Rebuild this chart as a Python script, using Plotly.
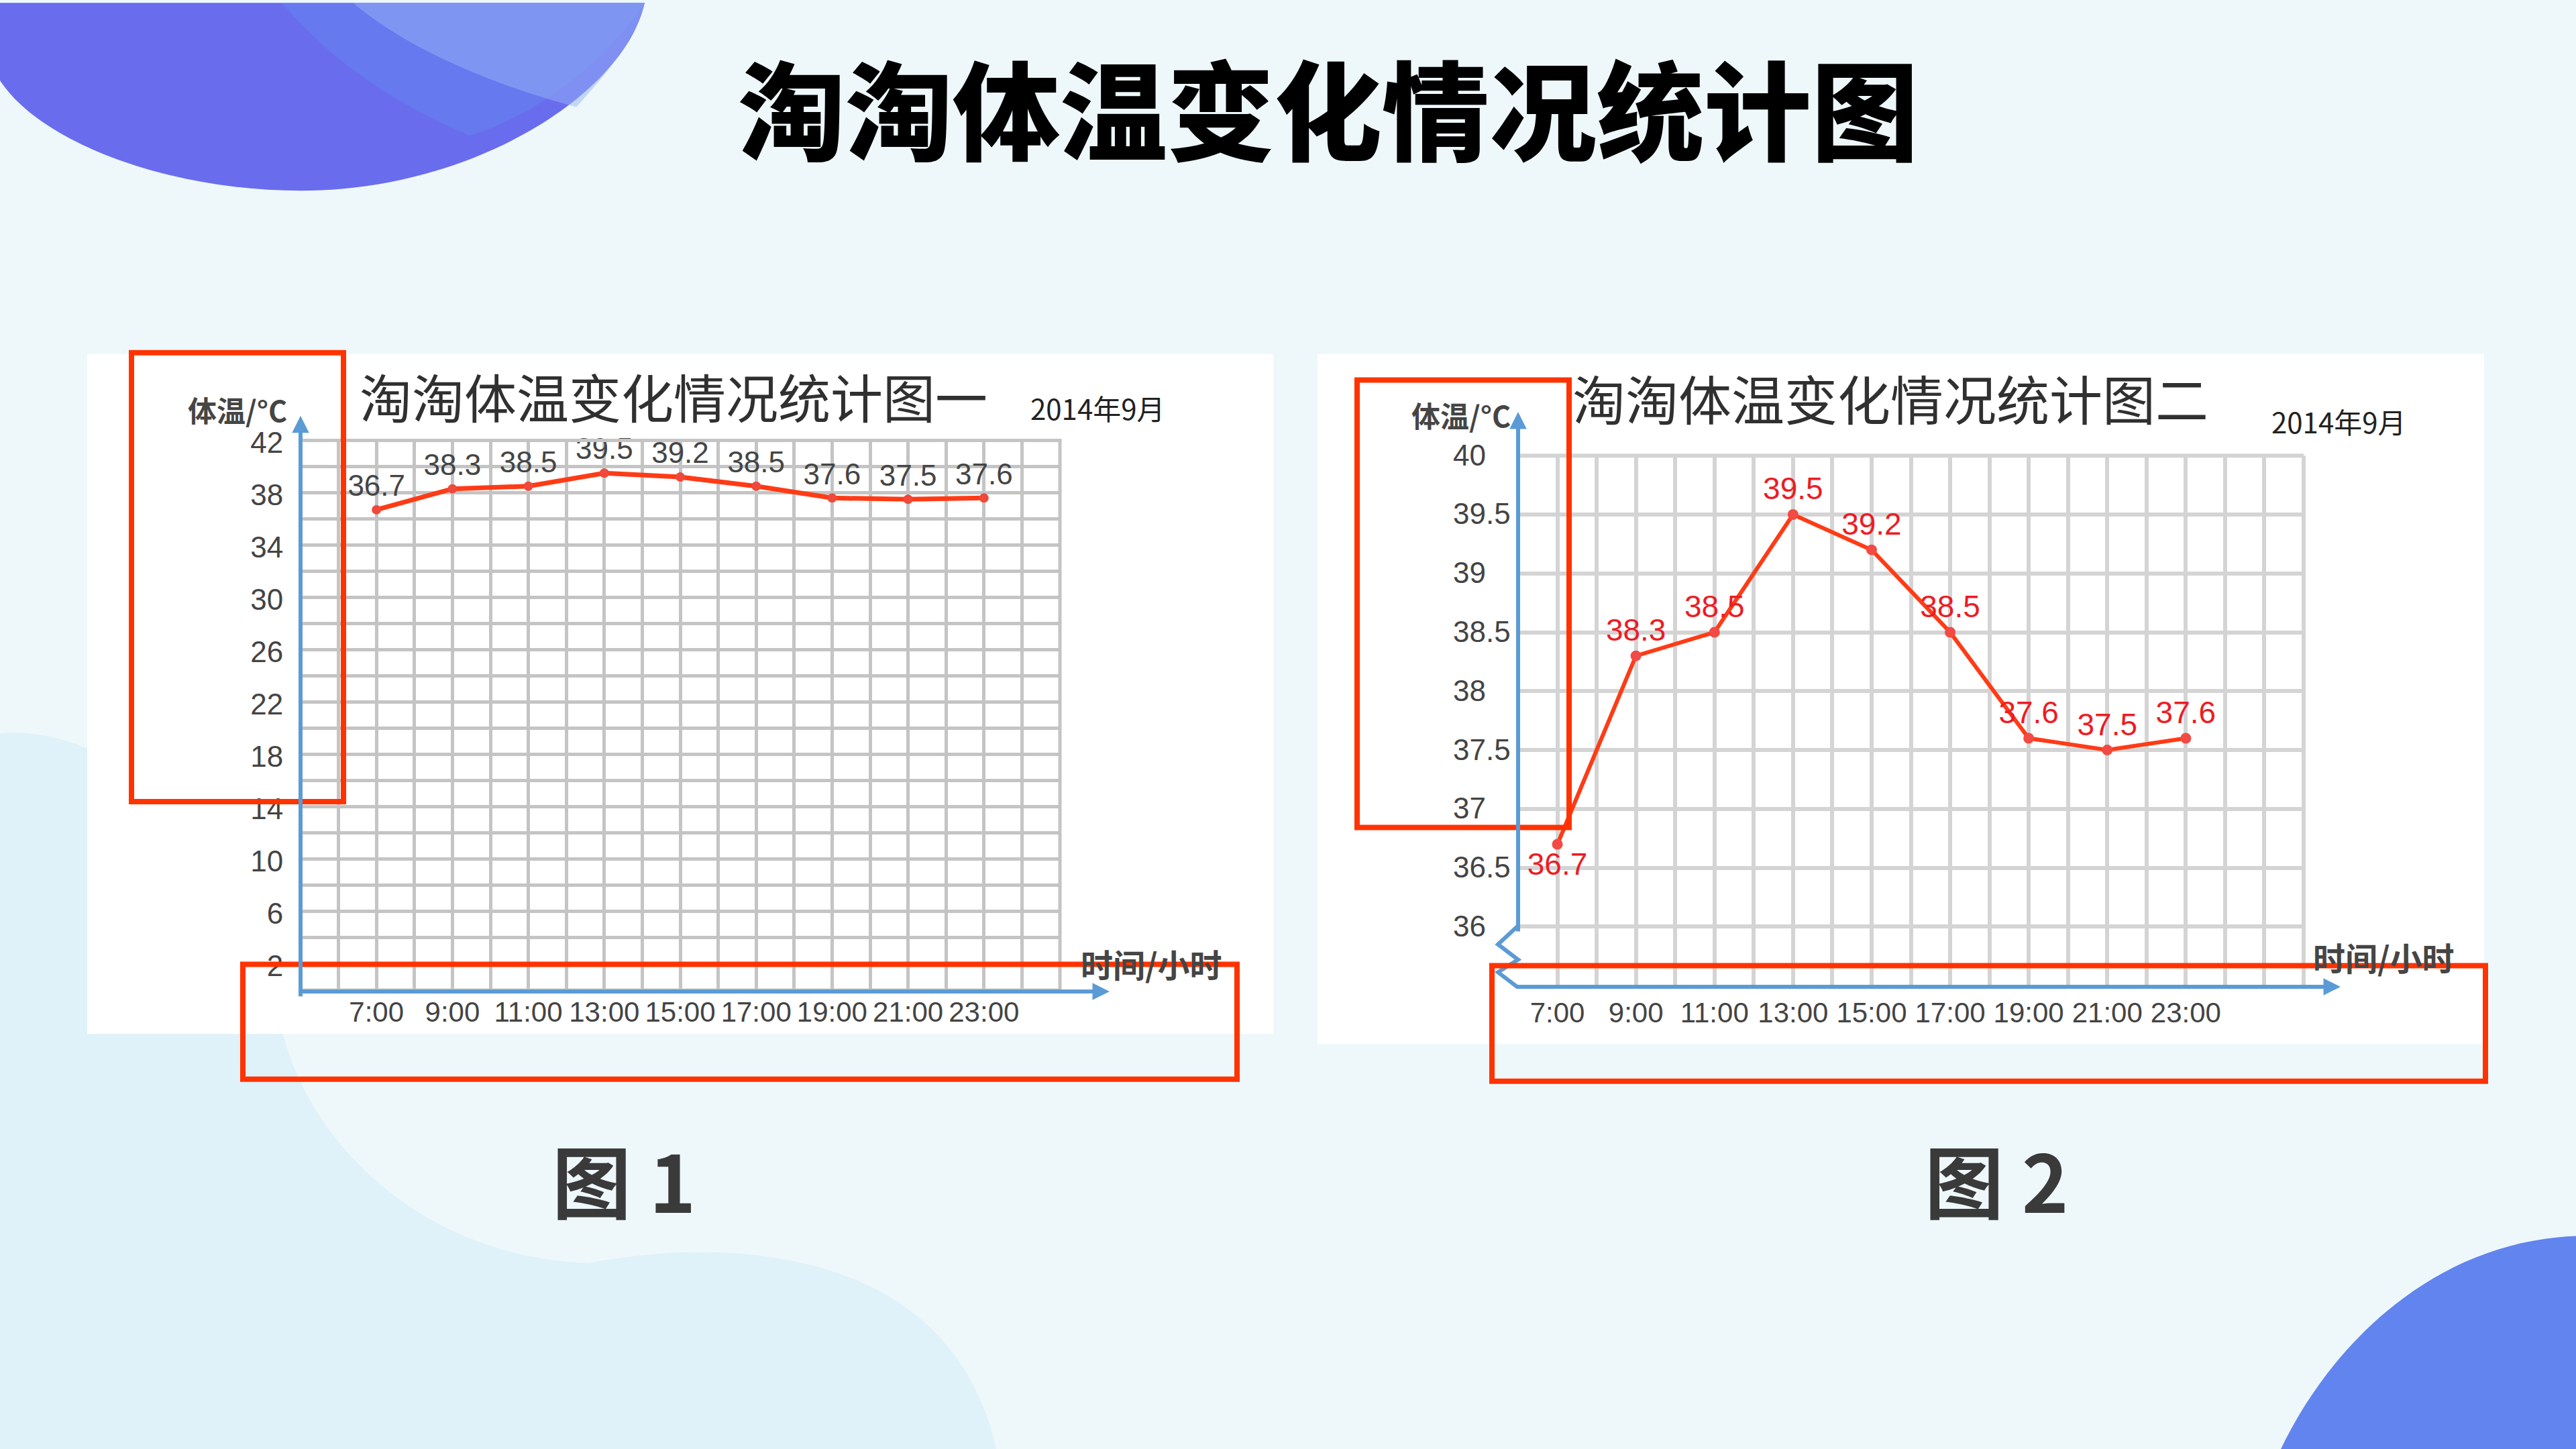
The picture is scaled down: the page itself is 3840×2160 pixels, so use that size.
import plotly.graph_objects as go

W, H = 3840, 2160
OFFSET_Y = 8  # compensates the page's vertical offset

# ---------------- data ----------------
time_labels = ["7:00", "9:00", "11:00", "13:00", "15:00", "17:00", "19:00", "21:00", "23:00"]
temps_chart1 = [36.7, 38.3, 38.5, 39.5, 39.2, 38.5, 37.6, 37.5, 37.6]
temps_chart2 = [36.7, 38.3, 38.5, 39.5, 39.2, 38.5, 37.6, 37.5, 37.6]
y1_tick_values = [2, 6, 10, 14, 18, 22, 26, 30, 34, 38, 42]
y2_tick_values = [36, 36.5, 37, 37.5, 38, 38.5, 39, 39.5, 40]

main_title = "淘淘体温变化情况统计图"
chart1_title = "淘淘体温变化情况统计图一"
chart2_title = "淘淘体温变化情况统计图二"
date_text = "2014年9月"
y_title = "体温/°C"
x_title = "时间/小时"
caption1 = "图 1"
caption2 = "图 2"

hours = [int(t.split(":")[0]) for t in time_labels]


def fx(x):
    return x / W


def fy(y):
    return 1 - (y - OFFSET_Y) / H


def path(cmds):
    out = []
    for c in cmds:
        if isinstance(c, str):
            out.append(c)
        else:
            out.append(f"{fx(c[0]):.5f},{fy(c[1]):.5f}")
    return " ".join(out)


CJK = "Noto Sans CJK SC"
NUM = "Liberation Sans, Arial, sans-serif"
LINE_RED = "#ff3b16"
BLUE = "#5b9bd5"
BOX_RED = "#ff3300"

fig = go.Figure()

fig.add_trace(go.Scatter(
    x=hours, y=temps_chart1, xaxis="x", yaxis="y",
    mode="lines+markers+text",
    text=[f"{v:.1f}" for v in temps_chart1],
    textposition="top center",
    textfont=dict(family=NUM, size=44, color="#454545"),
    line=dict(color=LINE_RED, width=7),
    marker=dict(size=14, color="#f0483a"),
    cliponaxis=False, showlegend=False, hoverinfo="skip",
))

fig.add_trace(go.Scatter(
    x=hours, y=temps_chart2, xaxis="x2", yaxis="y2",
    mode="lines+markers+text",
    text=[f"{v:.1f}" for v in temps_chart2],
    textposition=["bottom center"] + ["top center"] * (len(temps_chart2) - 1),
    textfont=dict(family=NUM, size=46, color="#ec1c24"),
    line=dict(color=LINE_RED, width=6),
    marker=dict(size=16, color="#f24a45"),
    cliponaxis=False, showlegend=False, hoverinfo="skip",
))

grid1 = "#c4c4c4"
grid2 = "#d4d4d4"

xaxis_common = dict(
    tickvals=hours, ticktext=time_labels,
    showgrid=True, zeroline=False, showline=False,
    ticks="",
    tickfont=dict(family=NUM, size=42, color="#444444"),
    fixedrange=True,
)

fig.update_layout(
    width=W, height=H,
    margin=dict(l=0, r=0, t=0, b=0),
    paper_bgcolor="#eef8fb",
    plot_bgcolor="white",
    font=dict(family=CJK, color="#333333"),
    xaxis=dict(
        domain=[fx(448), fx(1580)], range=[5, 25], anchor="y",
        gridcolor=grid1, gridwidth=5,
        minor=dict(dtick=1, tick0=0, showgrid=True, gridcolor=grid1, gridwidth=5),
        ticklabelstandoff=4,
        **xaxis_common,
    ),
    yaxis=dict(
        domain=[fy(1477), fy(649)], range=[0, 42], anchor="x",
        tickvals=y1_tick_values, ticktext=[str(v) for v in y1_tick_values],
        showgrid=True, gridcolor=grid1, gridwidth=5,
        minor=dict(dtick=2, tick0=0, showgrid=True, gridcolor=grid1, gridwidth=5),
        zeroline=False, showline=False,
        ticks="outside", ticklen=16, tickcolor="rgba(0,0,0,0)",
        ticklabelshift=3,
        tickfont=dict(family=NUM, size=44, color="#444444"),
        fixedrange=True,
    ),
    xaxis2=dict(
        domain=[fx(2263), fx(3434)], range=[6, 26], anchor="y2",
        gridcolor=grid2, gridwidth=6,
        minor=dict(dtick=1, tick0=0, showgrid=True, gridcolor=grid2, gridwidth=6),
        ticklabelstandoff=12,
        **xaxis_common,
    ),
    yaxis2=dict(
        domain=[fy(1470), fy(672)], range=[35.5, 40], anchor="x2",
        dtick=0.5, tick0=35.5, showticklabels=False,
        showgrid=True, gridcolor=grid2, gridwidth=6,
        zeroline=False, showline=False, fixedrange=True,
    ),
)

shapes = []
# background decorations
shapes.append(dict(type="path", xref="paper", yref="paper", layer="below",
                   path=path(["M", (0, 1090), "C", (200, 1075), (390, 1300), (423, 1548),
                              "C", (470, 1720), (640, 1880), (878, 1888),
                              "C", (1100, 1845), (1420, 1870), (1485, 2168),
                              "L", (0, 2168), "Z"]),
                   fillcolor="#dff1f9", line=dict(width=0)))
shapes.append(dict(type="path", xref="paper", yref="paper", layer="below",
                   path=path(["M", (0, -10), "L", (0, 107), "C", (60, 200), (250, 273), (449, 273),
                              "C", (700, 273), (930, 130), (961, -10), "Z"]),
                   fillcolor="#6a6cee", line=dict(width=0)))
shapes.append(dict(type="path", xref="paper", yref="paper", layer="below",
                   path=path(["M", (420, -10), "C", (480, 60), (560, 130), (700, 190),
                              "C", (800, 160), (900, 80), (961, -10), "Z"]),
                   fillcolor="rgba(95,145,242,0.35)", line=dict(width=0)))
shapes.append(dict(type="path", xref="paper", yref="paper", layer="below",
                   path=path(["M", (526, -10), "C", (620, 70), (760, 120), (859, 147),
                              "C", (910, 90), (950, 40), (961, -10), "Z"]),
                   fillcolor="rgba(150,180,245,0.5)", line=dict(width=0)))
shapes.append(dict(type="path", xref="paper", yref="paper", layer="below",
                   path=path(["M", (3400, 2168), "C", (3480, 2000), (3640, 1850), (3850, 1847),
                              "L", (3850, 2168), "Z"]),
                   fillcolor="#6284ee", line=dict(width=0)))
# white panels
for (x0, y0, x1, y1) in [(130, 519, 1898, 1543), (1964, 519, 3703, 1558)]:
    shapes.append(dict(type="rect", xref="paper", yref="paper", layer="below",
                       x0=fx(x0), x1=fx(x1), y0=fy(y1), y1=fy(y0),
                       fillcolor="white", line=dict(width=0)))
# grid borders
shapes.append(dict(type="rect", xref="x domain", yref="y domain", layer="above",
                   x0=0, x1=1, y0=0, y1=1, line=dict(color=grid1, width=5)))
shapes.append(dict(type="line", xref="x2 domain", yref="y2 domain", layer="above",
                   x0=0, x1=1, y0=1, y1=1, line=dict(color=grid2, width=6)))
shapes.append(dict(type="line", xref="x2 domain", yref="y2 domain", layer="above",
                   x0=1, x1=1, y0=0, y1=1, line=dict(color=grid2, width=6)))
# broken axis zigzag (chart 2)
shapes.append(dict(type="path", xref="paper", yref="paper", layer="above",
                   path=path(["M", (2263, 1380), "L", (2233, 1408), "L", (2263, 1431),
                              "L", (2233, 1450), "L", (2263, 1473)]),
                   line=dict(color=BLUE, width=6)))
# red highlight boxes
for (x0, y0, x1, y1) in [(196, 517, 512, 1193), (362, 1438, 1844, 1611),
                         (2023, 558, 2339, 1232), (2224, 1440, 3705, 1614)]:
    shapes.append(dict(type="rect", xref="paper", yref="paper", layer="above",
                       x0=fx(x0), x1=fx(x1), y0=fy(y1), y1=fy(y0),
                       fillcolor="rgba(0,0,0,0)", line=dict(color=BOX_RED, width=8)))
fig.update_layout(shapes=shapes)

ann = []


def text(t, x, y, size, color="#333333", family=CJK, weight=None, xanchor="center"):
    f = dict(family=family, size=size, color=color)
    if weight:
        f["weight"] = weight
    ann.append(dict(text=t, x=fx(x), y=fy(y), xref="paper", yref="paper",
                    xanchor=xanchor, yanchor="middle", showarrow=False, font=f))


def arrow(x_tip, y_tip, x_tail, y_tail):
    ann.append(dict(x=fx(x_tip), y=fy(y_tip), xref="paper", yref="paper",
                    ax=x_tail - x_tip, ay=y_tail - y_tip, axref="pixel", ayref="pixel",
                    text="", showarrow=True, arrowhead=2, arrowsize=0.85,
                    arrowwidth=6, arrowcolor=BLUE, standoff=0, startstandoff=0))


text(main_title, 1980, 144, 160, color="#000000", weight=900)
text(chart1_title, 1004, 582, 78, color="#303030")
text(date_text, 1636, 600, 42, color="#222222")
text(chart2_title, 2818, 584, 79, color="#303030")
text(date_text, 3486, 620, 42, color="#222222")
text(y_title, 354, 602, 43, color="#454545", weight=700)
text(y_title, 2178, 610, 43, color="#454545", weight=700)
text(x_title, 1716, 1437, 48, color="#454545", weight=700)
text(x_title, 3553, 1426, 48, color="#454545", weight=700)
text(caption1, 930, 1760, 118, color="#3a3a3a", weight=700)
text(caption2, 2976, 1760, 118, color="#3a3a3a", weight=700)

# chart 2 y tick labels (left aligned, as in the source image)
for v in y2_tick_values:
    ann.append(dict(text=f"{v:g}", x=fx(2164), y=v, xref="paper", yref="y2",
                    xanchor="left", yanchor="middle", yshift=1, showarrow=False,
                    font=dict(family=NUM, size=44, color="#444444")))

# axes with arrows
arrow(448, 612, 448, 1479)
arrow(1654, 1479, 446, 1479)
arrow(2263, 606, 2263, 1382)
arrow(3489, 1472, 2260, 1472)

fig.update_layout(annotations=ann)

fig.write_html("out.html")
